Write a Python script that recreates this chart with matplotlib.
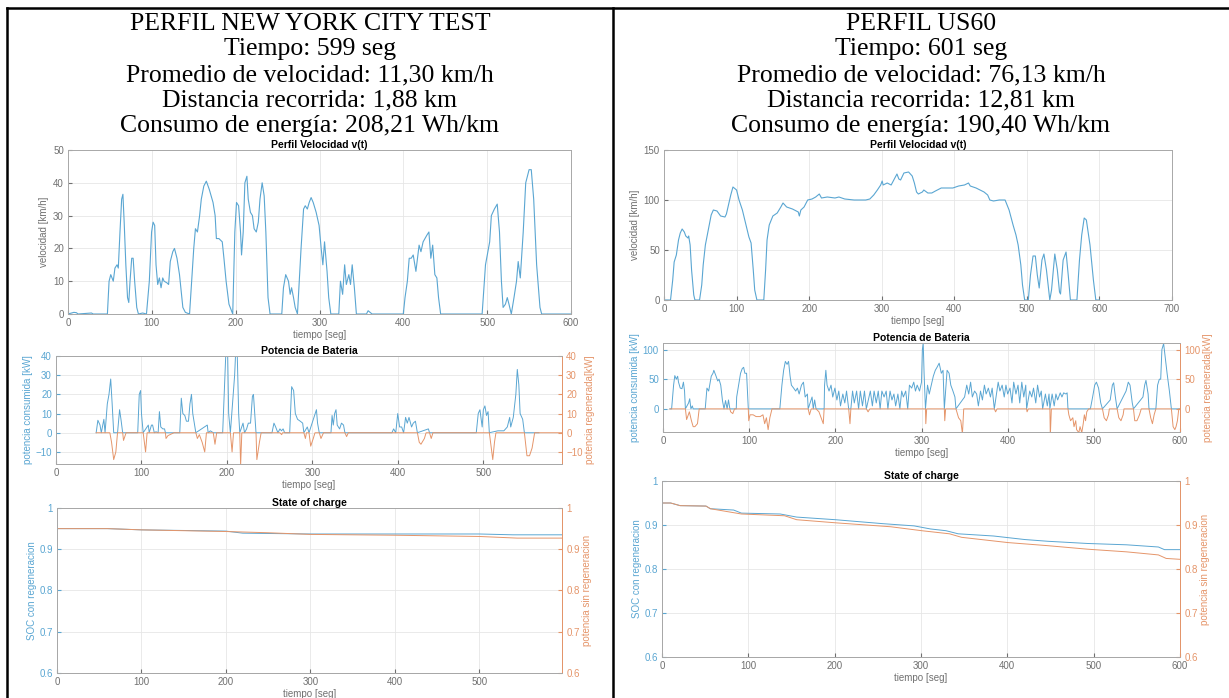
import numpy as np
import matplotlib
matplotlib.use("Agg")
import matplotlib.pyplot as plt
from matplotlib.lines import Line2D

W, H = 1229, 698

# ---- header texts ----
nyc_header = ["PERFIL NEW YORK CITY TEST", "Tiempo: 599 seg",
              "Promedio de velocidad: 11,30 km/h", "Distancia recorrida: 1,88 km",
              "Consumo de energía: 208,21 Wh/km"]
us60_header = ["PERFIL US60", "Tiempo: 601 seg",
               "Promedio de velocidad: 76,13 km/h", "Distancia recorrida: 12,81 km",
               "Consumo de energía: 190,40 Wh/km"]

# ---- NYC velocity ----
nyc_vel_t = [0, 7, 10, 12, 28, 30, 47, 49, 51, 54, 56, 58.5, 60, 62, 64, 65.5, 67, 69, 71, 72.5, 74, 76,
             77.7, 79.5, 82, 84, 89, 93.6, 97, 99.7, 101.5, 103.4, 105, 107, 109, 111, 113, 114.6, 118,
             120, 122, 125, 127, 130, 133, 137, 140, 145, 147, 150, 152, 154.4, 157, 159, 162, 165,
             168.5, 173, 175.5, 177, 180, 184, 186, 188.6, 192, 196.5, 199, 201, 203.5, 205.8, 207,
             209, 211, 213.4, 215, 217.6, 220, 222, 224.6, 227, 229, 231.6, 234, 236, 238.6, 241, 255,
             257, 259.7, 263, 265, 266.7, 269, 271, 273.7, 278, 281, 283, 285.5, 287.7, 290, 292.5,
             296, 299.5, 302, 304, 306, 309, 311, 313.5, 323, 325, 327.6, 330, 332, 335, 337, 339,
             341.6, 344, 356, 358, 362.7, 400, 402, 404.8, 407, 409.4, 411.8, 415, 418.8, 421, 423.6,
             428, 430.5, 432.8, 435, 437.6, 440, 442, 444.5, 494, 498, 503, 505, 508.6, 512, 514.7,
             517, 519, 521.8, 524, 526, 528.8, 532, 535, 537, 539.5, 543, 546, 550, 552.6, 555.5, 559,
             563, 565, 600]
nyc_vel_v = [0, 0.5, 0.4, 0, 0.3, 0, 0, 10, 12, 10, 14, 15, 14, 25, 35, 36.5, 28, 15, 5, 3.5, 10, 17,
             17, 10, 2, 0, 0.3, 0, 10, 25, 28, 27, 15, 9, 11, 8, 11, 10, 9.5,
             9, 16, 19, 20, 17, 12, 2, 0.5, 0, 8, 20, 26, 25, 30, 35, 39, 40.5,
             38, 34, 30, 23, 23, 22, 17, 10, 3, 0, 25, 34, 33, 25, 18,
             25, 40, 42, 35, 31, 30, 26, 25, 28, 35, 40, 36, 25, 5, 0, 0,
             8, 12, 10, 6, 8, 5, 2, 0, 20, 32, 33, 32, 34, 35.5, 34,
             31, 27, 20, 15, 22, 13, 5, 0, 0, 10, 6, 15, 9, 12, 9, 15,
             8, 0, 0, 1, 0, 0, 5, 10, 17, 17, 18, 13, 21, 19, 22,
             24, 25, 17, 21, 12, 11, 5, 0, 0, 15, 22, 30, 32, 33.5, 25,
             10, 2, 3, 5, 3, 0, 5, 10, 16, 11, 25, 40, 44, 44, 35, 15,
             2, 0, 0]

# ---- US60 velocity ----
us60_vel_t = [0, 9, 12, 14, 17, 20, 22.4, 25, 28, 30, 33, 34, 36, 38, 41, 42.6, 49, 52, 54, 57, 61, 65,
              68, 73, 78, 84, 86, 92, 95, 100, 103.4, 108, 113, 117, 120, 123, 125, 128, 137.5, 140,
              142, 145, 150, 156, 161, 164, 169, 177, 185, 186.5, 188.6, 193, 198, 204, 209, 214, 217,
              225, 235.6, 241, 249, 262, 278, 283.6, 289, 294, 298.6, 300.6, 302, 307.6, 313, 316.6,
              321, 323.6, 326, 330.6, 337, 342, 345, 348, 350.5, 356, 358, 363.6, 369, 374, 382, 390,
              398, 406, 414, 419.6, 422, 430, 441, 446, 449, 454, 462, 470, 475.5, 481, 485, 488,
              491.7, 494, 497, 502, 505, 508.5, 511.7, 514.4, 517, 520.8, 523.5, 527, 530, 531.6, 534,
              538.5, 542, 545, 546.4, 550, 554, 557, 560, 569, 572.5, 575.6, 579, 582, 587, 591.7, 595,
              600]
us60_vel_v = [0, 0, 20, 38, 45, 60, 67, 71, 68, 64, 62, 64, 55, 30, 5, 0, 0, 15, 35, 55, 70, 85,
              90, 89, 84, 83, 86, 105, 113, 110, 100, 90, 75, 63, 57, 30, 10, 0, 0, 30,
              60, 75, 84, 87, 93, 97, 93, 91, 88, 84, 90, 93, 100, 101, 103, 106, 102,
              103, 102, 103, 101, 100, 100, 101, 105, 110, 115, 119, 115, 117, 115, 120,
              126, 121, 120, 127, 128, 124, 117, 108, 106, 108, 110, 107, 107, 109, 112, 112,
              112, 114, 115, 117, 114, 112, 108, 105, 100, 99, 100, 100, 90, 75, 65, 55,
              35, 15, 0, 0, 25, 44, 44, 25, 12, 40, 46, 30, 10, 0, 10,
              46, 30, 8, 6, 40, 48, 25, 0, 0, 40, 65, 82, 80, 55, 20, 0,
              0]

# ---- NYC battery power: consumed (left axis) / regenerated (right axis) ----
nyc_pc_t = [47, 49, 51.5, 53, 56, 57.4, 60, 62, 64, 65.7, 67.5, 72, 74.4, 76, 78, 95.6, 97.4, 99, 100,
            102, 108, 109, 111.7, 113, 115, 117, 119.5, 121, 122.6, 125, 127, 128, 144.8, 146.6, 148.4,
            150.7, 152.6, 155, 156.7, 158.5, 160, 161.8, 163.6, 177, 178, 180.6, 184, 195, 197.6, 199,
            200.8, 202, 204, 209, 210.5, 212, 213.7, 215, 218.8, 220.6, 223, 225, 227.6, 229.8, 231,
            232.5, 234, 252.7, 255, 257, 259.6, 262, 263.8, 265.7, 267.5, 273.4, 275.7, 278, 280, 282.6,
            285.8, 288.6, 290, 294, 296, 304.7, 306, 308, 321.7, 323, 324.4, 326, 327.6, 329, 331.8,
            334, 336.4, 338, 393, 395, 397.5, 399.8, 402, 404.4, 406.7, 409, 411, 413, 416, 418, 420.5,
            422.8, 435.7, 437, 491.7, 494, 496, 498.6, 500, 501.8, 503.7, 505.5, 507, 517, 524, 528,
            530.8, 532, 535, 538, 539.7, 541.5, 543, 546, 548, 565]
nyc_pc_p = [0, 6.5, 4, 0, 7, 0, 15, 20, 28, 15, 0, 0, 12, 7, 0, 0, 20, 22, 10,
            0, 4, 0, 4, 4, 0, 0.5, 0, 11, 3, 2, 2, 0, 0, 18, 10,
            9, 6, 6, 15, 20, 10, 5, 0, 4, 0, 1, 0, 0, 30, 45,
            42, 10, 0, 30, 45, 42, 10, 0, 5, 0, 2, 5, 5, 19, 20,
            10, 0, 0, 5, 3, 0, 2, 1, 2, 0, 0, 24, 22, 10, 7,
            6, 5, 0, 3, 0, 12, 5, 0, 0, 9, 4, 10, 12, 4, 2,
            5, 4, 0, 0, 2, 0, 10, 3, 3, 0, 8, 5, 8, 3, 5, 6,
            0, 2, 0, 0, 10, 12, 3, 12, 14, 9, 11, 0, 1, 1, 3,
            8, 3, 8, 20, 33, 25, 10, 7, 0, 0]
nyc_pr_t = [47, 63, 65, 67.5, 70, 72, 78, 79, 82, 102, 104.8, 106.6, 128, 128.7, 131, 138, 163.6, 165.4,
            167.7, 171, 174, 176, 184, 186, 188, 204, 206, 207.7, 215, 216, 217.4, 234, 235, 238, 240,
            262, 264, 265, 290, 291.8, 293, 296, 298, 301, 303, 308, 310, 313, 338, 340, 342, 422.8,
            425, 427, 431, 433, 437, 439, 441, 507, 509, 511, 513, 514.7, 548, 551, 554, 557, 560, 595]
nyc_pr_p = [0, 0, -5, -14, -10, 0, 0, -4, 0, 0, -10, 0, 0, -3, -1.5, 0, 0, -3,
            -1, -5, -10, 0, 0, -6, 0, 0, -10, 0, 0, -17, 0, 0, -14, -5, 0,
            0, -1, 0, 0, -3, 0, 0, -7, -3, 0, 0, -3, 0, 0, -2, 0, 0,
            -5, -6, -3, 0, 0, -3, 0, 0, -7, -14, -5, 0, 0, -12, -12, -8, 0, 0]

# ---- US60 battery power ----
us60_pc_t = [8, 10, 12.3, 13.7, 15.5, 17, 18, 20, 22, 23.7, 25, 26, 29.7, 31, 32.4, 34, 35, 49, 51, 53,
             56, 58, 59, 61.6, 63.5, 65, 67, 69, 70.8, 72.6, 74.4, 76, 77.6, 85, 85.5, 87.7, 90, 92,
             93.6, 95, 97, 99, 135.6, 138, 140, 142, 144, 145.7, 147.5, 149, 151.6, 154, 156, 158,
             160.7, 163, 165, 167.6, 168.5, 173, 174.4, 176, 177.6, 187, 187.5, 189, 190.4, 192.7, 195,
             197, 199.5, 201.8, 204, 206, 208.7, 211, 213, 215.5, 218, 220, 222, 224.7, 227, 229,
             231.5, 233.8, 236, 240.6, 243, 245, 247.5, 249.8, 252, 254, 256.6, 259, 261, 263.5,
             265.7, 268, 270, 272.6, 274.9, 277, 279, 281.7, 284, 286, 288.6, 291, 293, 295, 297.7,
             300, 301, 302, 303, 304.6, 307, 309, 311.4, 313.7, 316, 318, 320.5, 323, 325, 326.5,
             329.7, 332, 334, 336.5, 338.8, 340, 350, 352.5, 354.8, 357, 359, 361.6, 364, 366, 368.5,
             370.7, 373, 375, 377.6, 380, 382, 384.5, 389, 391, 393.6, 396, 398, 400, 402.7, 405, 407,
             409.6, 412, 414, 416.4, 418.7, 421, 422, 425.6, 428, 430, 432.6, 434.7, 437, 439, 440.6,
             443.8, 446, 448, 449, 451.6, 454, 456, 458, 461, 463, 465, 467.6, 469, 470, 496, 498.6,
             501, 503, 505.5, 508, 510, 519, 521.5, 523, 525, 527, 537.4, 540, 542, 544.6, 546, 557,
             559, 560.5, 563, 564, 572, 574, 576, 577.6, 579, 581, 582.6, 585, 587.7, 590, 600]
us60_pc_p = [0, 0, 40, 56, 50, 55, 45, 35, 34, 45, 30, 0, 10, 17, 0, 5, 0, 0, 35, 30,
             55, 60, 65, 55, 47, 50, 40, 14, 0, 14, 0, 15, 0, 0, 20, 40, 60, 68,
             70, 60, 60, 0, 0, 40, 65, 80, 75, 80, 55, 40, 35, 30, 35, 25,
             40, 45, 20, 25, 0, 20, 0, 15, 0, 0, 40, 65, 40, 30, 40,
             20, 35, 15, 30, 5, 25, 10, 30, 0, 0, 30, 10, 30, 0, 30,
             5, 30, 0, 30, 5, 30, 10, 30, 0, 30, 20, 30, 0, 30,
             15, 25, 5, 25, 0, 30, 20, 30, 0, 40, 35, 45, 30, 40, 30,
             45, 100, 110, 60, 0, 40, 25, 40, 55, 65, 70, 77, 60, 65, 0,
             65, 60, 40, 30, 20, 0, 20, 40, 25, 45, 20, 30, 25, 5, 30,
             15, 40, 25, 35, 20, 35, 0, 45, 30, 40, 20, 40, 25, 35, 10, 45,
             25, 40, 10, 45, 20, 40, 0, 30, 20, 35, 10, 40, 20, 30, 0,
             25, 5, 25, 0, 25, 5, 25, 15, 27, 20, 27, 25, 27, 0, 0, 20,
             40, 45, 35, 10, 0, 15, 40, 44, 20, 0, 30, 45, 40, 10, 0, 20,
             40, 48, 25, 0, 0, 40, 50, 50, 100, 110, 90, 60, 30, 0, 0]
us60_pr_t = [8, 26, 27.4, 30.6, 33, 35, 37, 40, 42, 77.6, 78.5, 81, 83, 99, 99.5, 101, 104.6, 108,
             112.8, 116, 118, 120, 122, 124, 126.5, 168.5, 170, 172, 177.6, 181, 186, 187, 215.5, 217,
             218, 236, 238, 240, 304.6, 305, 306, 326.5, 327, 328, 340, 343, 345.6, 347.5, 349, 384.5,
             386, 387.7, 422, 422.5, 424, 449, 449.5, 450.7, 470, 471, 473, 475.6, 477, 479, 480,
             482.6, 484, 486, 487.7, 489, 490.4, 491.8, 494, 510, 512, 514.6, 517, 518, 527, 529,
             531.5, 534, 535, 546, 547.5, 550, 553, 555, 564, 566, 568, 570, 572, 590, 592, 594,
             595.4, 597, 598.6, 600]
us60_pr_p = [0, 0, -18, -5, -20, -30, -30, -25, 0, 0, -5, -8, 0, 0, -20, -10, -10, -13,
             -13, -10, -25, -15, -35, -15, 0, 0, -10, 0, 0, -5, -25, 0, 0, -25,
             0, 0, -5, 0, 0, -25, 0, 0, -20, 0, 0, -15, -20, -42, 0, 0,
             -5, 0, 0, -5, 0, 0, -45, 0, 0, -10, -20, -15, -30, -20, -35,
             -40, -30, -40, -25, -10, -20, -5, 0, 0, -15, -20, -10, 0, 0, -15,
             -20, -10, 0, 0, -20, -20, -10, 0, 0, -15, -25, -10, 0, 0, -30, -35,
             -30, -20, 0, 0]

# ---- state of charge ----
nyc_soc_t = [0, 60, 100, 200, 220, 300, 400, 500, 540, 599]
nyc_soc_con = [0.950, 0.950, 0.947, 0.944, 0.939, 0.937, 0.937, 0.937, 0.935, 0.935]
nyc_soc2_t = [0, 60, 100, 200, 250, 300, 400, 500, 545, 599]
nyc_soc_sin = [0.950, 0.950, 0.947, 0.943, 0.940, 0.936, 0.934, 0.931, 0.927, 0.927]

us60_soc_t = [0, 10, 21, 51, 56, 83, 92, 137, 156, 201, 256, 292, 311, 329, 343, 384, 420, 447, 493,
              538, 575, 582, 600]
us60_soc_con = [0.950, 0.950, 0.944, 0.943, 0.937, 0.934, 0.927, 0.925, 0.918, 0.912, 0.903, 0.898,
                0.891, 0.887, 0.880, 0.875, 0.867, 0.863, 0.858, 0.855, 0.850, 0.844, 0.844]
us60_soc2_t = [0, 10, 21, 51, 56, 92, 142, 156, 201, 265, 301, 333, 347, 401, 447, 493, 538, 575, 584,
               600]
us60_soc_sin = [0.950, 0.950, 0.944, 0.943, 0.937, 0.925, 0.921, 0.912, 0.905, 0.896, 0.887, 0.880,
                0.872, 0.860, 0.853, 0.845, 0.839, 0.832, 0.824, 0.822]

BLUE = "#5aa6d2"
ORANGE = "#e5956a"
TXT = "#707070"

plt.rcParams["font.family"] = ["Liberation Sans", "DejaVu Sans"]
fig = plt.figure(figsize=(W / 100, H / 100), dpi=100)


def rect(l, t, r, b):
    return [l / W, 1 - b / H, (r - l) / W, (b - t) / H]


def style(ax, ycol=TXT):
    ax.grid(True, color="#e6e6e6", linewidth=0.6)
    ax.set_axisbelow(True)
    ax.tick_params(direction="in", length=3, labelsize=7, colors=TXT, pad=3)
    ax.tick_params(axis="y", labelcolor=ycol, colors=ycol)
    for s in ax.spines.values():
        s.set_color("#a8a8a8")
        s.set_linewidth(0.7)


def velocity(r, t, v, xmax, ymax, xt, yt):
    ax = fig.add_axes(rect(*r))
    ax.plot(t, v, color=BLUE, lw=0.8)
    ax.set_xlim(0, xmax)
    ax.set_ylim(0, ymax)
    ax.set_xticks(xt)
    ax.set_yticks(yt)
    style(ax)
    ax.set_title("Perfil Velocidad v(t)", fontsize=7.5, fontweight="bold", pad=1.5)
    ax.set_ylabel("velocidad [km/h]", fontsize=7, color=TXT, labelpad=3)
    ax.set_xlabel("tiempo [seg]", fontsize=7, color=TXT, labelpad=1)
    return ax


def twin_plot(r, t1, y1, t2, y2, xmax, ylim, yt, title, lab1, lab2):
    ax = fig.add_axes(rect(*r))
    ax.plot(t1, y1, color=BLUE, lw=0.7)
    ax.set_xlim(0, xmax)
    ax.set_ylim(*ylim)
    ax.set_yticks(yt)
    ax.set_xticks(range(0, int(xmax) + 1, 100))
    style(ax, BLUE)
    ax.set_title(title, fontsize=7.5, fontweight="bold", pad=1.5)
    ax.set_ylabel(lab1, fontsize=7, color=BLUE, labelpad=2)
    ax.set_xlabel("tiempo [seg]", fontsize=7, color=TXT, labelpad=1)
    ax2 = ax.twinx()
    ax2.plot(t2, y2, color=ORANGE, lw=0.7)
    ax2.set_ylim(*ylim)
    ax2.set_yticks(yt)
    ax2.tick_params(direction="in", length=3, labelsize=7, colors=ORANGE, pad=3)
    for s in ax2.spines.values():
        s.set_color("#a8a8a8")
        s.set_linewidth(0.7)
    ax2.spines["right"].set_color(ORANGE)
    ax2.set_ylabel(lab2, fontsize=7, color=ORANGE, labelpad=2)
    return ax, ax2


# left column
velocity((68, 150, 571, 314), nyc_vel_t, nyc_vel_v, 600, 50, range(0, 601, 100), range(0, 51, 10))
twin_plot((56, 356, 562, 464), nyc_pc_t, nyc_pc_p, nyc_pr_t, nyc_pr_p, 592, (-16.3, 40),
          range(-10, 41, 10), "Potencia de Bateria", "potencia consumida [kW]", "potencia regenerada[kW]")
a, b = twin_plot((57, 508, 562, 673), nyc_soc_t, nyc_soc_con, nyc_soc2_t, nyc_soc_sin, 598, (0.6, 1),
                 [0.6, 0.7, 0.8, 0.9, 1], "State of charge", "SOC con regeneracion",
                 "potencia sin regeneracion")
a.set_yticklabels(["0.6", "0.7", "0.8", "0.9", "1"])
b.set_yticklabels(["0.6", "0.7", "0.8", "0.9", "1"])

# right column
velocity((664, 150, 1172, 300), us60_vel_t, us60_vel_v, 700, 150, range(0, 701, 100), [0, 50, 100, 150])
twin_plot((663, 343, 1180, 432), us60_pc_t, us60_pc_p, us60_pr_t, us60_pr_p, 600, (-39, 111),
          [0, 50, 100], "Potencia de Bateria", "potencia consumida [kW]", "potencia regenerada[kW]")
a, b = twin_plot((662, 481, 1180, 657), us60_soc_t, us60_soc_con, us60_soc2_t, us60_soc_sin, 600,
                 (0.6, 1), [0.6, 0.7, 0.8, 0.9, 1], "State of charge", "SOC con regeneracion",
                 "potencia sin regeneracion")
a.set_yticklabels(["0.6", "0.7", "0.8", "0.9", "1"])
b.set_yticklabels(["0.6", "0.7", "0.8", "0.9", "1"])

# header text blocks
for cx, lines in [(310, nyc_header), (921, us60_header)]:
    for i, s in enumerate(lines):
        fig.text(cx / W, 1 - (30 + i * 25.5) / H, s, ha="center", va="baseline",
                 fontsize=18.5, family="Liberation Serif", color="black")

# table borders
for x0, y0, x1, y1 in [(7, 8, 7, 698), (7, 8, 1229, 8), (613, 8, 613, 698)]:
    fig.add_artist(Line2D([x0 / W, x1 / W], [1 - y0 / H, 1 - y1 / H], transform=fig.transFigure,
                          color="black", lw=1.8))

fig.savefig("out.png", dpi=100)
